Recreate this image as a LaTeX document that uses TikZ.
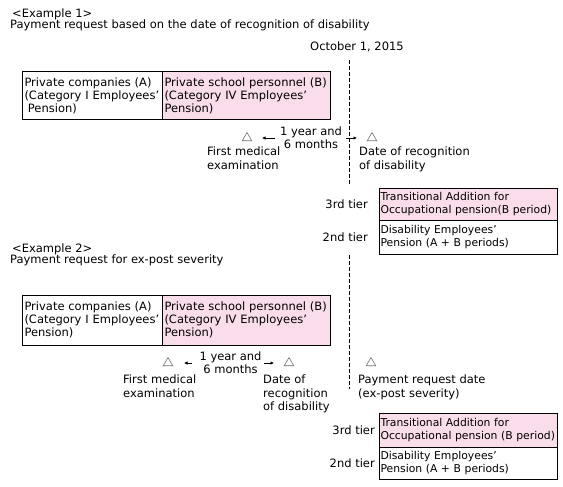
\documentclass[tikz,border=0pt]{standalone}
\usepackage{fontspec}
\setmainfont{DejaVu Sans}
\usepackage{xcolor}
\usepackage{tikz}
\usetikzlibrary{shapes.geometric,arrows.meta,positioning}
\definecolor{schoolpink}{RGB}{250,221,235}

\begin{document}
\begin{tikzpicture}[
  x=1pt, y=-1pt,
  every node/.style={font=\fontsize{11.5}{13.3}\selectfont, inner sep=0pt},
  txt/.style={anchor=north west, align=left},
  box/.style={draw, line width=1pt, outer sep=0pt, anchor=north west, align=left, inner xsep=2.5pt},
  plainbox/.style={box, fill=white},
  pinkbox/.style={box, fill=schoolpink},
  tierbox/.style={minimum width=178, text width=175, inner xsep=1.5pt, font=\fontsize{10.8}{13.3}\selectfont},
  tri/.style={draw=black!55, line width=0.6pt, regular polygon, regular polygon sides=3, minimum size=11pt},
  arr/.style={-{Latex[length=3.5pt,width=3.5pt]}, line width=0.6pt},
  guide/.style={dash pattern=on 4pt off 2pt, line width=0.8pt}
]
\useasboundingbox (0,0) rectangle (563,487);

\node[txt] (ex1) at (12,9) {<Example 1>};
\node[txt] (ex1sub) at (10,20) {Payment request based on the date of recognition of disability};
\node[txt] (oct1) at (310,42) {October 1, 2015};
\coordinate (d1top) at (349,60);
\coordinate (d1bot) at (349,185);
\draw[guide] (d1top) -- (d1bot);

\node[plainbox, minimum width=140, minimum height=48, text width=135] (compA1) at (22,72) {Private companies (A)\\(Category I Employees'\\\hspace*{0.3em}Pension)};
\node[pinkbox, right=0pt of compA1, minimum width=168, minimum height=48, text width=163] (schoolB1) {Private school personnel (B)\\(Category IV Employees'\\Pension)};

\node[tri] (fme1) at (247,138) {};
\node[tri] (rec1) at (372,138) {};
\node[align=center] (per1) at (311,138) {1 year and\\6 months};
\draw[arr, shorten <=5pt, shorten >=15pt] (per1.west) -- (fme1.center);
\draw[arr, shorten <=4pt, shorten >=15pt] (per1.east) -- (rec1.center);
\node[txt] (fme1lbl) at (207,147) {First medical\\examination};
\node[txt] (rec1lbl) at (359,147) {Date of recognition\\of disability};

\node[pinkbox, tierbox, minimum height=32] (trans1) at (379,188) {Transitional Addition for\\Occupational pension(B period)};
\node[plainbox, tierbox, below=0pt of trans1, minimum height=34] (dis1) {Disability Employees'\\Pension (A + B periods)};
\node[left=11pt of trans1] (tier3a) {3rd tier};
\node[left=11pt of dis1] (tier2a) {2nd tier};

\node[txt] (ex2) at (12,244) {<Example 2>};
\node[txt] (ex2sub) at (10,255) {Payment request for ex-post severity};
\coordinate (d2top) at (349,255);
\coordinate (d2bot) at (349,389);
\draw[guide] (d2top) -- (d2bot);

\node[plainbox, minimum width=140, minimum height=50, text width=135] (compA2) at (22,295) {Private companies (A)\\(Category I Employees'\\Pension)};
\node[pinkbox, right=0pt of compA2, minimum width=168, minimum height=50, text width=163] (schoolB2) {Private school personnel (B)\\(Category IV Employees'\\Pension)};

\node[tri] (fme2) at (168,363) {};
\node[tri] (rec2) at (289,363) {};
\node[tri] (req2) at (371,363) {};
\node[align=center] (per2) at (230.5,363) {1 year and\\6 months};
\draw[arr, shorten <=7.5pt, shorten >=16pt] (per2.west) -- (fme2.center);
\draw[arr, shorten <=2.5pt, shorten >=15pt] (per2.east) -- (rec2.center);
\node[txt] (fme2lbl) at (123,375) {First medical\\examination};
\node[txt] (rec2lbl) at (263,375) {Date of\\recognition\\of disability};
\node[txt] (req2lbl) at (358,375) {Payment request date\\(ex-post severity)};

\node[pinkbox, tierbox, minimum height=34] (trans2) at (379,413) {Transitional Addition for\\Occupational pension (B period)};
\node[plainbox, tierbox, below=0pt of trans2, minimum height=32] (dis2) {Disability Employees'\\Pension (A + B periods)};
\node[left=4pt of trans2] (tier3b) {3rd tier};
\node[left=4pt of dis2] (tier2b) {2nd tier};
\end{tikzpicture}
\end{document}
